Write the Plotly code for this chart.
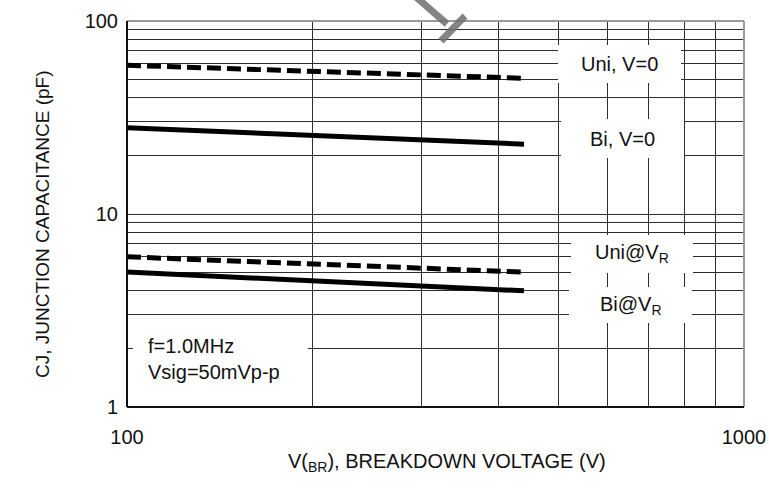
import plotly.graph_objects as go

# ---- data ----
v_br = [100, 440]
uni_v0 = [59, 50.5]
bi_v0 = [28, 23]
uni_vr = [6.0, 5.0]
bi_vr = [5.0, 4.0]

x_major = [100, 1000]
x_major_text = ["100", "1000"]
x_minor = [200, 300, 400, 500, 600, 700, 800, 900]
y_major = [1, 10, 100]
y_major_text = ["1", "10", "100"]
y_minor = [2, 3, 4, 5, 6, 7, 8, 9, 20, 30, 40, 50, 60, 70, 80, 90]

W, H = 769, 493
L, R, T, B = 127, 25, 21, 86
PW, PH = W - L - R, H - T - B


def px(X):
    return (X - L) / PW


def py(Y):
    return (H - B - Y) / PH


FONT = "Liberation Sans, Arial, sans-serif"
GRID = "#2e2e2e"

fig = go.Figure()
fig.add_trace(go.Scatter(x=v_br, y=uni_v0, mode="lines",
                         line=dict(color="black", width=5, dash="14px,6px")))
fig.add_trace(go.Scatter(x=v_br, y=bi_v0, mode="lines",
                         line=dict(color="black", width=5)))
fig.add_trace(go.Scatter(x=v_br, y=uni_vr, mode="lines",
                         line=dict(color="black", width=5, dash="14px,6px")))
fig.add_trace(go.Scatter(x=v_br, y=bi_vr, mode="lines",
                         line=dict(color="black", width=5)))

shapes = []
# white label boxes (pixel boxes: x0, x1, y0, y1)
boxes = [(558, 681, 45, 83), (561, 684, 119, 158), (571, 693, 235, 273),
         (569, 692, 287, 323), (133, 308, 330, 390)]
for x0, x1, y0, y1 in boxes:
    shapes.append(dict(type="rect", xref="paper", yref="paper",
                       x0=px(x0), x1=px(x1), y0=py(y1), y1=py(y0),
                       fillcolor="white", line=dict(width=0), layer="above"))
# frame
shapes.append(dict(type="line", xref="paper", yref="paper", x0=0, x1=1, y0=1, y1=1,
                   line=dict(color="#9a9a9a", width=2), layer="above"))
shapes.append(dict(type="line", xref="paper", yref="paper", x0=1, x1=1, y0=0, y1=1,
                   line=dict(color="#9a9a9a", width=2), layer="above"))
shapes.append(dict(type="line", xref="paper", yref="paper", x0=0, x1=0, y0=0, y1=1,
                   line=dict(color="#111111", width=2), layer="above"))
shapes.append(dict(type="line", xref="paper", yref="paper", x0=0, x1=1, y0=0, y1=0,
                   line=dict(color="#111111", width=2), layer="above"))
# watermark fragment
shapes.append(dict(type="line", xref="paper", yref="paper",
                   x0=px(416), y0=py(-3), x1=px(447), y1=py(24),
                   line=dict(color="rgba(110,110,110,0.85)", width=7), layer="above"))
shapes.append(dict(type="line", xref="paper", yref="paper",
                   x0=px(465), y0=py(16), x1=px(441), y1=py(41),
                   line=dict(color="rgba(110,110,110,0.85)", width=7), layer="above"))

annos = []
labels = [("Uni, V=0", 619.5, 64), ("Bi, V=0", 622.5, 139),
          ("Uni@V<sub>R</sub>", 632, 254), ("Bi@V<sub>R</sub>", 630.5, 305)]
for t, X, Y in labels:
    annos.append(dict(text=t, xref="paper", yref="paper", x=px(X), y=py(Y),
                      xanchor="center", yanchor="middle", showarrow=False,
                      font=dict(family=FONT, size=20, color="#111111")))
annos.append(dict(text="f=1.0MHz<br>Vsig=50mVp-p", xref="paper", yref="paper",
                  x=px(146), y=py(359), xanchor="left", yanchor="middle", align="left",
                  showarrow=False, font=dict(family=FONT, size=20, color="#111111")))
annos.append(dict(text="V(<sub>BR</sub>), BREAKDOWN VOLTAGE (V)", xref="paper", yref="paper",
                  x=px(447), y=py(462), xanchor="center", yanchor="middle",
                  showarrow=False, font=dict(family=FONT, size=20, color="#111111")))
annos.append(dict(text="CJ, JUNCTION CAPACITANCE (pF)", xref="paper", yref="paper",
                  x=px(42), y=py(224), xanchor="center", yanchor="middle", textangle=-90,
                  showarrow=False, font=dict(family=FONT, size=19, color="#111111")))

fig.update_layout(
    width=W, height=H,
    margin=dict(l=L, r=R, t=T, b=B, autoexpand=False),
    paper_bgcolor="white", plot_bgcolor="white",
    showlegend=False,
    shapes=shapes, annotations=annos,
    font=dict(family=FONT, size=20, color="#111111"),
)
fig.update_xaxes(type="log", range=[2, 3], tickmode="array",
                 tickvals=x_major, ticktext=x_major_text,
                 showgrid=True, gridcolor=GRID, gridwidth=1, zeroline=False,
                 minor=dict(tickmode="array", tickvals=x_minor, showgrid=True,
                            gridcolor=GRID, gridwidth=1, ticks=""),
                 showline=False, ticks="", ticklabelstandoff=16, automargin=False,
                 tickfont=dict(family=FONT, size=20, color="#111111"))
fig.update_yaxes(type="log", range=[0, 2], tickmode="array",
                 tickvals=y_major, ticktext=y_major_text,
                 showgrid=True, gridcolor=GRID, gridwidth=1, zeroline=False,
                 minor=dict(tickmode="array", tickvals=y_minor, showgrid=True,
                            gridcolor=GRID, gridwidth=1, ticks=""),
                 showline=False, ticks="", ticklabelstandoff=8, automargin=False,
                 tickfont=dict(family=FONT, size=20, color="#111111"))

fig.write_html("out.html", config={"displayModeBar": False},
               post_script="document.body.style.margin='0';document.body.style.overflow='hidden';")
